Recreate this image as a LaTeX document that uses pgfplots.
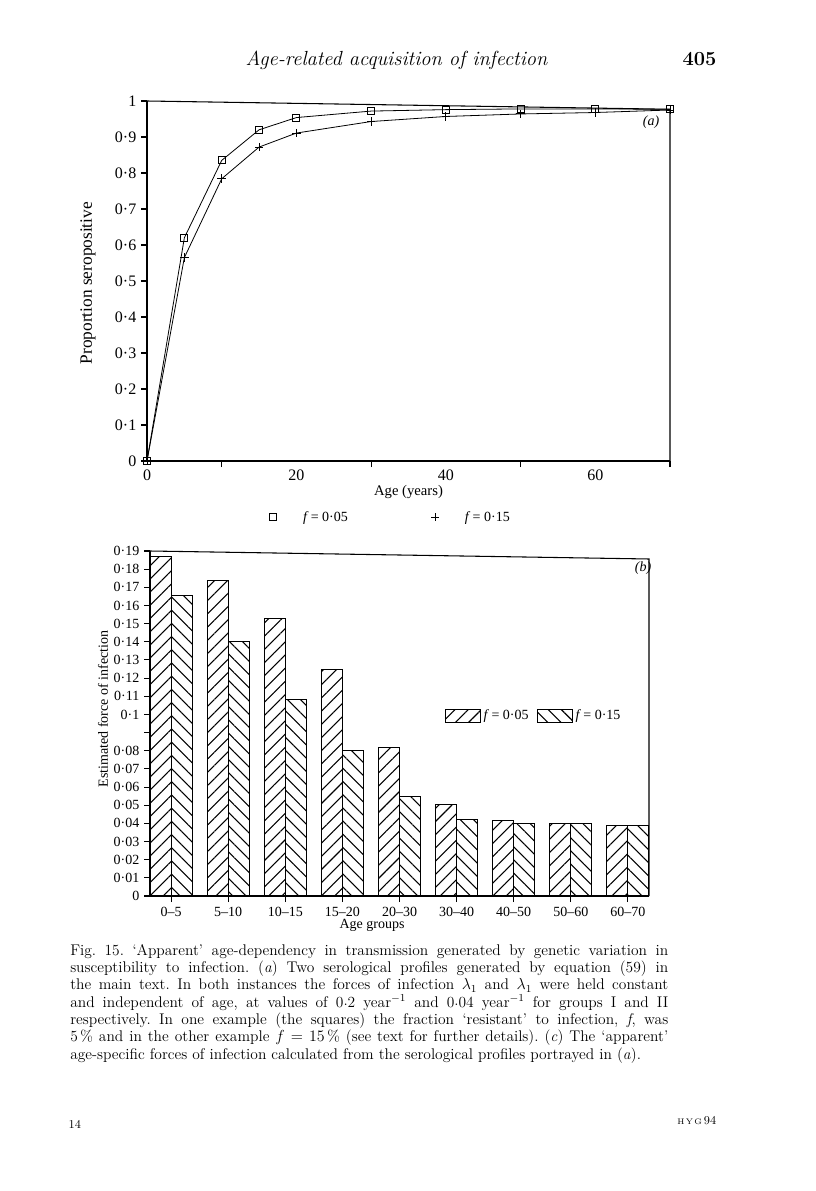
\documentclass[border=0pt]{standalone}
\usepackage{fontspec}
\usepackage{pgfplots}
\pgfplotsset{compat=1.18}
\usetikzlibrary{patterns.meta}
\newfontfamily\figfont{Liberation Serif}
\newcommand\figsize{\figfont\fontsize{10.5}{12}\selectfont}
\newcommand\pd{\raisebox{.33ex}{.}}

% (a) serological profiles
\pgfplotstableread{
age sq pl
0  0     0
5  0.620 0.565
10 0.835 0.784
15 0.920 0.872
20 0.954 0.911
30 0.972 0.943
40 0.976 0.957
50 0.978 0.964
60 0.978 0.968
70 0.977 0.975
}\sero

% (b) estimated forces of infection
\pgfplotstableread{
grp fa    fb
0   0.187 0.1655
1   0.174 0.140
2   0.153 0.108
3   0.125 0.080
4   0.082 0.055
5   0.0505 0.042
6   0.0415 0.040
7   0.040 0.040
8   0.039 0.039
}\bars

\begin{document}
\begin{tikzpicture}
\path[use as bounding box, fill=white] (0,0) rectangle (612pt,-893.25pt);

% ---------------- (a)
\begin{axis}[
  at={(110.25pt,-345.75pt)}, anchor=south west,
  scale only axis, width=392.25pt, height=270pt,
  xmin=0, xmax=70, ymin=0, ymax=1,
  clip=false,
  axis x line*=bottom, axis y line*=left,
  axis line style={line width=0.8pt},
  tick align=outside, major tick length=4.5pt,
  tick style={line width=0.8pt, black},
  xtick={10,30,50,70}, xticklabels={},
  extra x ticks={0,20,40,60}, extra x tick labels={0,20,40,60},
  extra x tick style={major tick length=0pt},
  xticklabel style={yshift=-3pt},
  ytick={0,0.1,0.2,0.3,0.4,0.5,0.6,0.7,0.8,0.9,1},
  yticklabels={0,0·1,0·2,0·3,0·4,0·5,0·6,0·7,0·8,0·9,1},
  ticklabel style={font=\figfont\fontsize{12}{14}\selectfont},
  xlabel={Age (years)}, ylabel={Proportion seropositive},
  xlabel style={font=\figfont\fontsize{11}{13}\selectfont,
    at={(axis description cs:0.5,-0.086)}, anchor=center},
  ylabel style={font=\figfont\fontsize{13}{15}\selectfont,
    at={(axis description cs:-0.113,0.494)}, anchor=center},
  legend columns=2,
  legend cell align=left,
  legend image code/.code={\draw[#1] plot coordinates {(0.25cm,0cm)}; \path (0cm,0cm) (0.95cm,0cm);},
  legend style={at={(axis description cs:0.222,-0.156)}, anchor=west,
    draw=none, fill=none, inner sep=0pt, font=\figsize,
    /tikz/every even column/.append style={column sep=56pt}},
]
\addlegendimage{only marks, mark=square, mark size=2.6pt, line width=0.7pt}
\addlegendentry{\textit{f}\,= 0·05}
\addlegendimage{only marks, mark=+, mark size=3pt, line width=0.7pt}
\addlegendentry{\textit{f}\,= 0·15}
\addplot[forget plot, black, line width=0.6pt, mark=square, mark size=2.6pt,
  mark options={line width=0.7pt}] table[x=age, y=sq] {\sero};
\addplot[forget plot, black, line width=0.6pt, mark=+, mark size=3.2pt,
  mark options={line width=0.7pt}] table[x=age, y=pl] {\sero};
\draw[line width=0.8pt] (axis cs:0,1) -- (axis cs:70,0.977) -- (axis cs:70,0);
\end{axis}

% ---------------- (b)
\begin{axis}[
  at={(112.5pt,-672pt)}, anchor=south west,
  scale only axis, width=374.25pt, height=258.75pt,
  xmin=-0.37, xmax=8.37, ymin=0, ymax=0.19,
  clip=false,
  ybar=0pt, bar width=0.368,
  axis x line*=bottom, axis y line*=left,
  axis line style={line width=0.8pt},
  tick align=outside, major tick length=4.5pt,
  tick style={line width=0.8pt, black},
  xtick={0,1,2,3,4,5,6,7,8},
  xticklabels={0–5,5–10,10–15,15–20,20–30,30–40,40–50,50–60,60–70},
  ytick={0,0.01,0.02,0.03,0.04,0.05,0.06,0.07,0.08,0.09,0.1,0.11,0.12,0.13,0.14,0.15,0.16,0.17,0.18,0.19},
  yticklabels={0,0·01,0·02,0·03,0·04,0·05,0·06,0·07,0·08,,0·1,0·11,0·12,0·13,0·14,0·15,0·16,0·17,0·18,0·19},
  ticklabel style={font=\figsize},
  xlabel={Age groups}, ylabel={Estimated force of infection},
  label style={font=\figsize},
  xlabel style={at={(axis description cs:0.445,-0.084)}, anchor=center},
  ylabel style={at={(axis description cs:-0.094,0.542)}, anchor=center},
  legend columns=2,
  legend image code/.code={\draw[#1] (0cm,-0.17cm) rectangle (0.93cm,0.17cm);},
  legend style={at={(axis description cs:0.59,0.522)}, anchor=west,
    draw=none, fill=none, inner sep=0pt, font=\figsize,
    /tikz/every even column/.append style={column sep=4pt}},
]
\addplot[draw=black, line width=0.8pt,
  pattern={Lines[angle=45, distance=7pt, line width=0.8pt]}]
  table[x=grp, y=fa] {\bars};
\addlegendentry{\textit{f}\,= 0·05}
\addplot[draw=black, line width=0.8pt,
  pattern={Lines[angle=-45, distance=7pt, line width=0.8pt]}]
  table[x=grp, y=fb] {\bars};
\addlegendentry{\textit{f}\,= 0·15}
\draw[line width=0.8pt] (axis cs:-0.37,0.19) -- (axis cs:8.37,0.1856) -- (axis cs:8.37,0);
\end{axis}

% ---------------- page text (pixel coordinates)
\begin{scope}[x=0.75pt, y=-0.75pt]
\node[anchor=base, font=\fontsize{15.3}{17}\selectfont\itshape] at (396.5,66) {Age-related acquisition of infection};
\node[anchor=base east, font=\fontsize{15}{17}\selectfont\bfseries] at (721,66) {405};
\node[font=\figsize\itshape] at (651,122) {(a)};
\node[font=\figsize\itshape] at (643,568) {(b)};
\node[anchor=north west, inner sep=0pt, text width=448.5pt, align=justify,
  font=\fontsize{11.6}{13}\selectfont] at (70,944) {\frenchspacing
Fig. 15. `Apparent' age-dependency in transmission generated by genetic variation in\linebreak
susceptibility to infection. (\textit{a}) Two serological profiles generated by equation (59) in\linebreak
the main text. In both instances the forces of infection $\lambda_1$ and $\lambda_1$ were held constant\linebreak
and independent of age, at values of 0\pd 2 year$^{-1}$ and 0\pd 04 year$^{-1}$ for groups I and II\linebreak
respectively. In one example (the squares) the fraction `resistant' to infection, \textit{f}, was\linebreak
5\,\% and in the other example $f = 15\,\%$ (see text for further details). (\textit{c}) The `apparent'\linebreak
age-specific forces of infection calculated from the serological profiles portrayed in (\textit{a}).\par};
\node[anchor=base west, font=\fontsize{9}{10}\selectfont] at (64,1128) {14};
\node[anchor=base east, font=\fontsize{9}{10}\selectfont] at (721,1124) {{\fontsize{6}{7}\selectfont H\,Y\,G}\,94};
\end{scope}
\end{tikzpicture}
\end{document}
